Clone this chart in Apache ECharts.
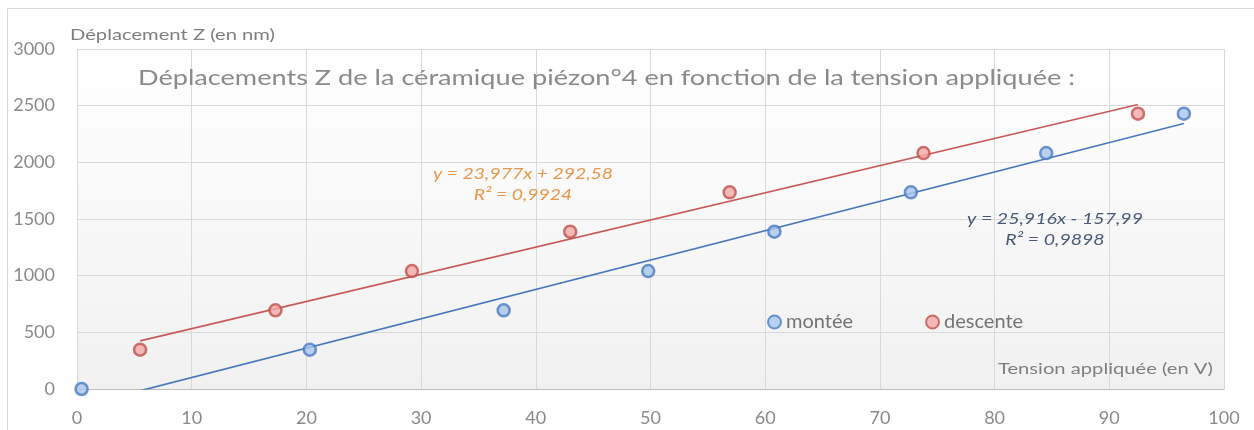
<!DOCTYPE html>
<html>
<head>
<meta charset="utf-8">
<script src="https://cdn.jsdelivr.net/npm/echarts@6/dist/echarts.min.js"></script>
<style>
  html, body { margin: 0; padding: 0; background: #ffffff; }
  #chart { width: 1254px; height: 430px; }
</style>
</head>
<body>
<div id="chart"></div>
<script>
// Piezo ceramic n°4: Z displacement (nm) against applied voltage (V)
const titleText = 'Déplacements Z de la céramique piézon°4 en fonction de la tension appliquée :';
const yAxisName = 'Déplacement Z (en nm)';
const xAxisName = 'Tension appliquée (en V)';
const seriesNames = ['montée', 'descente'];

// rising voltage
const monteeX = [0.4, 20.3, 37.2, 49.8, 60.8, 72.7, 84.5, 96.5];
const monteeY = [0, 347, 694, 1041, 1388, 1735, 2082, 2429];
// falling voltage
const descenteX = [5.5, 17.3, 29.2, 43.0, 56.9, 73.8, 92.5];
const descenteY = [347, 694, 1041, 1388, 1735, 2082, 2429];

// linear trend lines: [slope, intercept, R²]
const monteeFit = [25.916, -157.99, 0.9898];
const descenteFit = [23.977, 292.58, 0.9924];

const xTicks = [0, 10, 20, 30, 40, 50, 60, 70, 80, 90, 100];
const yTicks = [0, 500, 1000, 1500, 2000, 2500, 3000];

const FONT = 'Lato, "Open Sans", sans-serif';

function zip(xs, ys) { return xs.map((x, i) => [x, ys[i]]); }
function trend(fit, xs) {
  const x0 = Math.min(...xs), x1 = Math.max(...xs);
  return [[x0, fit[0] * x0 + fit[1]], [x1, fit[0] * x1 + fit[1]]];
}
function fr(v) { return String(v).replace('.', ','); }
function eqText(fit) {
  const sign = fit[1] < 0 ? ' - ' : ' + ';
  return 'y = ' + fr(fit[0]) + 'x' + sign + fr(Math.abs(fit[1])) + '\nR² = ' + fr(fit[2]);
}
// horizontal stretch so a text spans a given width
const measureCtx = document.createElement('canvas').getContext('2d');
function stretch(text, font, width) {
  measureCtx.font = font;
  return width / measureCtx.measureText(text).width;
}

function freeText(text, x, y, size, color, width, opts) {
  opts = opts || {};
  const fontStr = (opts.italic ? 'italic ' : '') + size + 'px Lato';
  const lines = text.split('\n');
  const sx = width ? stretch(lines[0], fontStr, width) : 1;
  return {
    type: 'text', x: x, y: y, scaleX: sx, z: 10, silent: true,
    style: {
      text: text, fill: color, font: fontStr,
      align: opts.align || 'left', verticalAlign: 'middle',
      lineHeight: opts.lineHeight || size * 1.2
    }
  };
}

const chart = echarts.init(document.getElementById('chart'), null, { renderer: 'canvas' });

const option = {
  backgroundColor: '#ffffff',
  animation: false,
  grid: {
    left: 77, right: 30, top: 49, bottom: 41,
    show: true, borderWidth: 0,
    backgroundColor: {
      type: 'linear', x: 0, y: 0, x2: 0, y2: 1,
      colorStops: [{ offset: 0, color: '#ffffff' }, { offset: 1, color: '#f1f1f1' }]
    }
  },
  legend: {
    data: seriesNames,
    left: 762, top: 307,
    itemGap: 72, itemWidth: 13, itemHeight: 13, icon: 'circle',
    textStyle: { fontFamily: FONT, fontSize: 20, color: '#747474' }
  },
  xAxis: {
    type: 'value', min: xTicks[0], max: xTicks[xTicks.length - 1], interval: 10,
    axisLine: { show: true, onZero: false, lineStyle: { color: '#bfbfbf', width: 1.2 } },
    axisTick: { show: false },
    axisLabel: { fontFamily: FONT, fontSize: 18, color: '#8a8a8a', margin: 20 },
    splitLine: { show: true, lineStyle: { color: '#d9d9d9', width: 1 } }
  },
  yAxis: {
    type: 'value', min: yTicks[0], max: yTicks[yTicks.length - 1], interval: 500,
    axisLine: { show: true, lineStyle: { color: '#d9d9d9' } },
    axisTick: { show: false },
    axisLabel: {
      fontFamily: FONT, fontSize: 18, color: '#8a8a8a', margin: 22,
      formatter: (v) => String(v)
    },
    splitLine: { show: true, lineStyle: { color: '#d9d9d9', width: 1 } }
  },
  series: [
    {
      name: seriesNames[0], type: 'scatter', z: 5,
      data: zip(monteeX, monteeY),
      symbol: 'circle', symbolSize: 12,
      itemStyle: { color: '#a9c5ec', borderColor: '#4a7bc4', borderWidth: 2.5 }
    },
    {
      name: seriesNames[1], type: 'scatter', z: 5,
      data: zip(descenteX, descenteY),
      symbol: 'circle', symbolSize: 12,
      itemStyle: { color: '#f3a7a6', borderColor: '#c0504d', borderWidth: 2.5 }
    },
    {
      name: 'trend-montee', type: 'line', z: 3, silent: true,
      data: trend(monteeFit, monteeX),
      showSymbol: false, clip: true,
      lineStyle: { color: '#4a78bb', width: 1.7 }
    },
    {
      name: 'trend-descente', type: 'line', z: 3, silent: true,
      data: trend(descenteFit, descenteX),
      showSymbol: false, clip: true,
      lineStyle: { color: '#c95a5a', width: 1.7 }
    }
  ],
  graphic: [
    {
      type: 'rect', silent: true, z: 0,
      shape: { x: 7.5, y: 8.5, width: 1260, height: 440 },
      style: { fill: 'none', stroke: '#d9d9d9', lineWidth: 1 }
    },
    freeText(titleText, 138, 78, 21, '#8a8a8a', 937),
    freeText(yAxisName, 70, 35, 16, '#7f7f7f', 205),
    freeText(xAxisName, 998, 369, 16, '#7f7f7f', 215),
    freeText(eqText(descenteFit), 523, 184, 16, '#e8974a', 180, { italic: true, align: 'center', lineHeight: 21 }),
    freeText(eqText(monteeFit), 1055, 229, 16, '#4a5a78', 176, { italic: true, align: 'center', lineHeight: 21 })
  ]
};

chart.setOption(option);
</script>
</body>
</html>
